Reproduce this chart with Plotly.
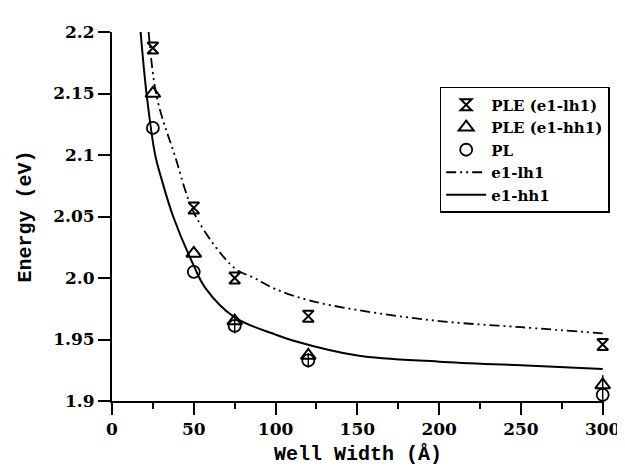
import plotly.graph_objects as go

# measured points
well_width = [25, 50, 75, 120, 300]
ple_lh1 = [2.187, 2.057, 2.000, 1.969, 1.946]
ple_hh1 = [2.150, 2.020, 1.965, 1.937, 1.913]
pl = [2.122, 2.005, 1.961, 1.933, 1.905]
pl_err_up = [0, 0, 0.006, 0.006, 0.016]
pl_err_down = [0, 0, 0.006, 0.006, 0.004]

# calculated curves
calc_lh1_x = [22.4, 27.4, 38.3, 51.3, 75, 87, 100, 120, 150, 200, 250, 300]
calc_lh1_y = [2.200, 2.147, 2.100, 2.050, 2.008, 2.000, 1.991, 1.982, 1.974, 1.965, 1.960, 1.955]
calc_hh1_x = [17.5, 21.1, 26.4, 30.4, 37.4, 50, 57, 75, 100, 111, 150, 200, 250, 300]
calc_hh1_y = [2.200, 2.150, 2.100, 2.080, 2.050, 2.010, 1.992, 1.968, 1.954, 1.949, 1.937, 1.932, 1.929, 1.926]

y_ticks = [1.9, 1.95, 2.0, 2.05, 2.1, 2.15, 2.2]
y_ticktext = ['1.9', '1.95', '2.0', '2.05', '2.1', '2.15', '2.2']
x_ticks = [0, 50, 100, 150, 200, 250, 300]

tick_font = dict(family='DejaVu Serif', size=17, color='black', weight='bold')
title_font = dict(family='Liberation Mono', size=20, color='black', weight='bold')

fig = go.Figure()
fig.add_trace(go.Scatter(
    x=well_width, y=ple_lh1, mode='markers', name='PLE (e1-lh1)',
    marker=dict(symbol='hourglass-open', size=11, color='black', line=dict(width=2)),
    cliponaxis=False))
fig.add_trace(go.Scatter(
    x=well_width, y=ple_hh1, mode='markers', name='PLE (e1-hh1)',
    marker=dict(symbol='triangle-up-open', size=13, color='black', line=dict(width=2)),
    cliponaxis=False))
fig.add_trace(go.Scatter(
    x=well_width, y=pl, mode='markers', name='PL',
    marker=dict(symbol='circle-open', size=12, color='black', line=dict(width=1.8)),
    error_y=dict(type='data', array=pl_err_up, arrayminus=pl_err_down, symmetric=False,
                 visible=True, width=0, thickness=1.5, color='black'),
    cliponaxis=False))
fig.add_trace(go.Scatter(
    x=calc_lh1_x, y=calc_lh1_y, mode='lines', name='e1-lh1',
    line=dict(color='black', width=1.8, shape='spline', dash='10px,4px,2px,4px,2px,4px')))
fig.add_trace(go.Scatter(
    x=calc_hh1_x, y=calc_hh1_y, mode='lines', name='e1-hh1',
    line=dict(color='black', width=2, shape='spline')))

fig.update_layout(
    width=625, height=468,
    margin=dict(l=104, r=18, t=24, b=75),
    paper_bgcolor='white', plot_bgcolor='white',
    showlegend=True,
    legend=dict(
        x=0.666, y=0.851, xanchor='left', yanchor='top',
        bordercolor='black', borderwidth=1.5, bgcolor='white',
        font=dict(family='DejaVu Serif', size=15, color='black', weight='bold'),
        tracegroupgap=0, itemwidth=40),
)
fig.update_xaxes(
    range=[0, 300.8], tickvals=x_ticks, ticks='outside', ticklen=12, tickwidth=2,
    tickcolor='black', showline=True, linecolor='black', linewidth=2,
    showgrid=False, zeroline=False, tickfont=tick_font,
    minor=dict(dtick=25, ticks='outside', ticklen=6, tickwidth=1.5, tickcolor='black'),
    title=dict(text='Well Width (Å)', font=title_font, standoff=8))
fig.update_yaxes(
    range=[1.9, 2.2], tickvals=y_ticks, ticktext=y_ticktext, ticks='outside',
    ticklen=12, tickwidth=2, tickcolor='black', showline=True, linecolor='black',
    linewidth=2, showgrid=False, zeroline=False, tickfont=tick_font,
    title=dict(text='Energy (eV)', font=title_font, standoff=16))

fig.write_html('out.html')
